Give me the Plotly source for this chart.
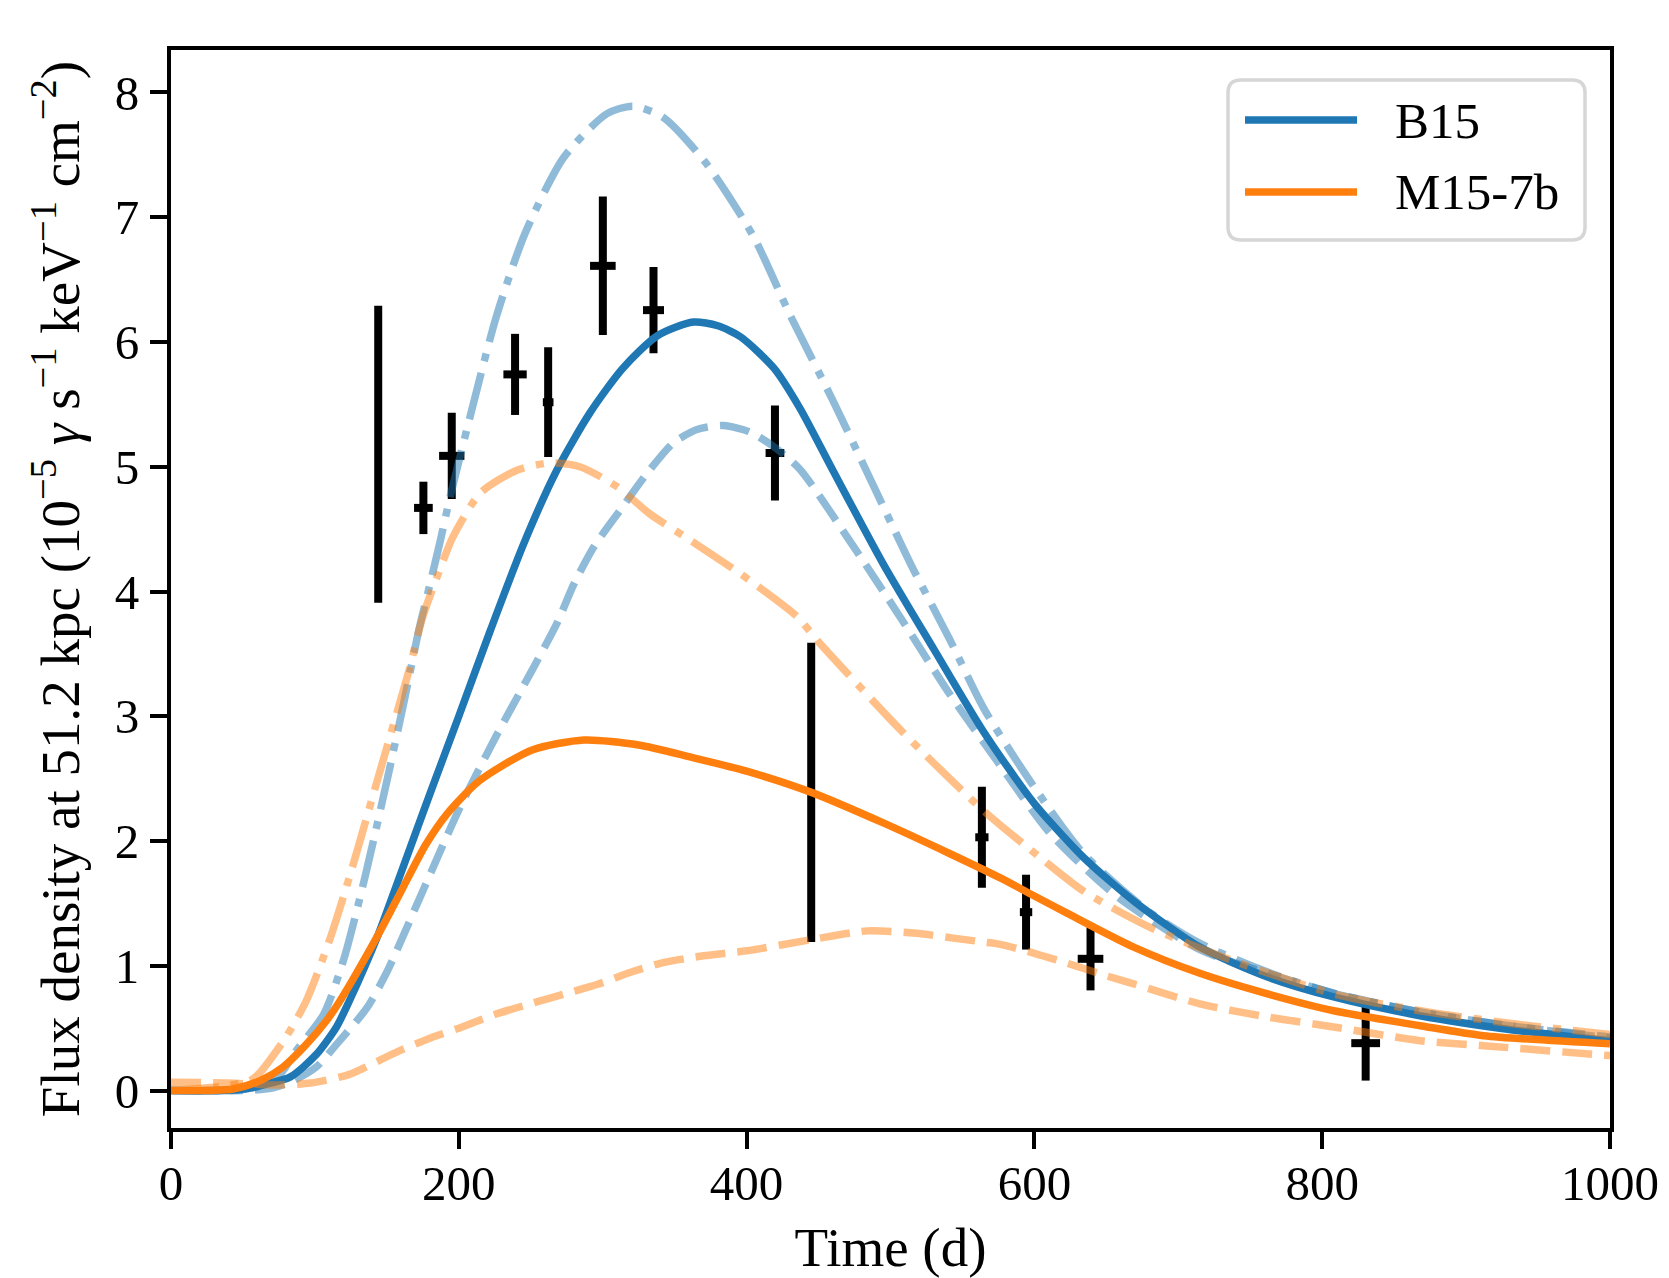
import plotly.graph_objects as go

# ---------------- data ----------------
obs_t = [144.0, 175.4, 195.1, 239.1, 262.1, 300.1, 335.3, 419.7, 444.9, 563.5, 594.2, 639.0, 830.2]
obs_t_err = [0.0, 6.5, 8.8, 8.1, 3.7, 8.9, 7.3, 6.5, 0.0, 4.6, 4.3, 8.9, 10.0]
obs_flux = [5.10, 4.67, 5.087, 5.74, 5.517, 6.61, 6.255, 5.11, 2.39, 2.03, 1.43, 1.056, 0.38]
obs_flux_err = [1.19, 0.21, 0.345, 0.325, 0.44, 0.555, 0.345, 0.38, 1.20, 0.405, 0.30, 0.253, 0.30]

b15_t = [0, 30, 50, 62, 83, 101, 115, 124, 144, 160, 180, 200, 222, 245, 268, 291, 314, 338,
         363, 380, 396, 419, 437, 460, 495, 530, 565, 600, 634, 669, 715, 762, 808, 868, 930, 1000]
b15_flux = [0.0, 0.0, 0.01, 0.04, 0.11, 0.29, 0.51, 0.72, 1.25, 1.75, 2.38, 3.0, 3.69, 4.38, 4.97,
            5.43, 5.79, 6.05, 6.16, 6.13, 6.04, 5.79, 5.47, 4.97, 4.22, 3.54, 2.87, 2.30, 1.87,
            1.52, 1.15, 0.91, 0.75, 0.60, 0.49, 0.40]

b15_dd_t = [0, 40, 60, 75, 87, 106, 120, 135, 150, 162, 172, 180, 187, 194, 210, 226, 246, 273,
            303, 321, 342, 372, 405, 430, 460, 495, 514, 541, 565, 600, 634, 680, 715, 762, 808,
            868, 930, 1000]
b15_dd_flux = [0.0, 0.0, 0.03, 0.12, 0.32, 0.61, 1.05, 1.72, 2.48, 3.12, 3.68, 4.06, 4.40, 4.76,
               5.5, 6.2, 6.87, 7.48, 7.83, 7.89, 7.8, 7.43, 6.84, 6.22, 5.53, 4.68, 4.22, 3.62,
               3.06, 2.43, 1.90, 1.43, 1.18, 0.95, 0.78, 0.63, 0.52, 0.42]

b15_da_t = [0, 50, 70, 85, 101, 115, 136, 150, 175, 200, 225, 250, 268, 280, 294, 312, 331, 349,
            366, 384, 402, 419, 437, 472, 507, 541, 576, 611, 657, 715, 762, 808, 868, 930, 1000]
b15_da_flux = [0.0, 0.0, 0.02, 0.08, 0.19, 0.37, 0.66, 0.95, 1.6, 2.25, 2.82, 3.35, 3.74, 4.06,
               4.36, 4.65, 4.95, 5.19, 5.30, 5.33, 5.28, 5.16, 4.98, 4.40, 3.79, 3.18, 2.61,
               2.06, 1.56, 1.13, 0.94, 0.78, 0.63, 0.52, 0.43]

m15_t = [0, 43, 62, 78, 94, 108, 117.5, 144, 160, 177, 192, 214, 251, 287, 325, 362, 400, 445,
         495, 541, 577, 595, 623, 669, 715, 762, 808, 868, 912, 1000]
m15_flux = [0.0, 0.013, 0.08, 0.19, 0.37, 0.56, 0.72, 1.25, 1.6, 1.97, 2.22, 2.48, 2.73, 2.81,
            2.77, 2.67, 2.56, 2.39, 2.145, 1.90, 1.70, 1.59, 1.42, 1.15, 0.94, 0.775, 0.64,
            0.52, 0.44, 0.375]

m15_dd_t = [0, 40, 55, 62, 80, 94, 110, 125, 140, 155, 165, 175, 186, 196, 215, 240, 263, 284,
            310, 333, 361, 396, 435, 449, 507, 565, 606, 634, 680, 738, 808, 868, 930, 1000]
m15_dd_flux = [0.0, 0.04, 0.08, 0.147, 0.43, 0.72, 1.2, 1.75, 2.35, 2.95, 3.35, 3.80, 4.15, 4.44,
               4.79, 4.97, 5.03, 5.0, 4.84, 4.62, 4.41, 4.14, 3.80, 3.61, 2.89, 2.24, 1.85,
               1.60, 1.31, 1.04, 0.775, 0.64, 0.54, 0.45]

m15_da_t = [0, 40, 70, 97, 124, 148, 159, 180, 200, 225, 251, 275, 296, 320, 340, 370, 400, 445,
            484, 518, 545, 565, 577, 600, 623, 650, 669, 715, 762, 808, 868, 912, 1000]
m15_da_flux = [0.067, 0.06, 0.045, 0.06, 0.13, 0.26, 0.32, 0.42, 0.50, 0.61, 0.70, 0.78, 0.85,
               0.95, 1.02, 1.08, 1.12, 1.21, 1.28, 1.26, 1.22, 1.19, 1.17, 1.10, 1.02, 0.92,
               0.855, 0.695, 0.59, 0.51, 0.40, 0.36, 0.28]

x_ticks = [0, 200, 400, 600, 800, 1000]
y_ticks = [0, 1, 2, 3, 4, 5, 6, 7, 8]
legend_labels = ["B15", "M15-7b"]

# ---------------- styling ----------------
BLUE = "#1f77b4"
ORANGE = "#ff7f0e"
LBLUE = "rgba(31,119,180,0.5)"
LORANGE = "rgba(255,127,14,0.5)"
FONT = "Liberation Serif"
FS = 49
FS_TITLE = 55
LW = 7.5
DASH = "30px,12px"
DASHDOT = "48px,12px,8px,12px"

W, H = 1669, 1278
ML, MR, MT, MB = 171, 59, 50, 150
PW = W - ML - MR
PH = H - MT - MB


def px(x):
    return (x - ML) / PW


def py(y):
    return (H - MB - y) / PH


fig = go.Figure()

# observations (drawn first, curves on top)
fig.add_trace(go.Scatter(
    x=obs_t, y=obs_flux, mode="markers", name="data",
    marker=dict(size=0, color="black"),
    error_y=dict(type="data", array=obs_flux_err, color="black", thickness=8, width=0),
    error_x=dict(type="data", array=obs_t_err, color="black", thickness=8, width=0),
    showlegend=False,
))

curves = [
    (b15_t, b15_flux, BLUE, "solid", "B15"),
    (b15_da_t, b15_da_flux, LBLUE, DASH, "B15 dashed"),
    (b15_dd_t, b15_dd_flux, LBLUE, DASHDOT, "B15 dash-dot"),
    (m15_t, m15_flux, ORANGE, "solid", "M15-7b"),
    (m15_da_t, m15_da_flux, LORANGE, DASH, "M15-7b dashed"),
    (m15_dd_t, m15_dd_flux, LORANGE, DASHDOT, "M15-7b dash-dot"),
]
for t, f, col, dash, name in curves:
    fig.add_trace(go.Scatter(
        x=t, y=f, mode="lines", name=name,
        line=dict(color=col, width=LW, dash=dash, shape="spline", smoothing=0.7),
        showlegend=False,
    ))

# ---- manual legend (matplotlib style) ----
x0, x1 = px(1228), px(1585)
y0, y1 = py(240), py(80)
rx, ry = 13 / PW, 13 / PH
path = (f"M{x0+rx},{y0} L{x1-rx},{y0} Q{x1},{y0} {x1},{y0+ry} L{x1},{y1-ry} "
        f"Q{x1},{y1} {x1-rx},{y1} L{x0+rx},{y1} Q{x0},{y1} {x0},{y1-ry} "
        f"L{x0},{y0+ry} Q{x0},{y0} {x0+rx},{y0} Z")
shapes = [dict(type="path", path=path, xref="paper", yref="paper",
               line=dict(color="#d6d6d6", width=3.5), fillcolor="rgba(255,255,255,0.8)",
               layer="above")]
annotations = []
for i, (lab, col) in enumerate(zip(legend_labels, [BLUE, ORANGE])):
    yy = py(120 + 72 * i)
    shapes.append(dict(type="line", xref="paper", yref="paper", x0=px(1245), x1=px(1357),
                       y0=yy, y1=yy, line=dict(color=col, width=LW), layer="above"))
    annotations.append(dict(x=px(1393), y=py(121 + 71 * i), xref="paper", yref="paper",
                            text=lab, showarrow=False, xanchor="left", yanchor="middle",
                            font=dict(family=FONT, size=FS + 2, color="black")))

axis_common = dict(
    showgrid=False, zeroline=False, showline=True, linecolor="black", linewidth=4,
    mirror=True, ticks="outside", ticklen=17, tickwidth=3.5, tickcolor="black",
    tickfont=dict(family=FONT, size=FS, color="black"), automargin=False,
)

fig.update_layout(
    width=W, height=H,
    margin=dict(l=ML, r=MR, t=MT, b=MB, pad=0, autoexpand=False),
    paper_bgcolor="white", plot_bgcolor="white",
    font=dict(family=FONT, size=FS, color="black"),
    showlegend=False,
    shapes=shapes, annotations=annotations,
    xaxis=dict(range=[0, 1000], tickvals=x_ticks, ticktext=[str(v) for v in x_ticks],
               title=dict(text="Time (d)", font=dict(family=FONT, size=FS_TITLE), standoff=30),
               ticklabelstandoff=-8, **axis_common),
    yaxis=dict(range=[-0.30, 8.34], tickvals=y_ticks, ticktext=[str(v) for v in y_ticks],
               title=dict(text="Flux density at 51.2 kpc (10<sup>\u22125</sup> <i>\u03b3</i> "
                               "s<sup>\u22121</sup> keV<sup>\u22121</sup> cm<sup>\u22122</sup>)",
                          font=dict(family=FONT, size=FS_TITLE), standoff=18),
               ticklabelstandoff=1, **axis_common),
)

fig.write_html("out.html")
